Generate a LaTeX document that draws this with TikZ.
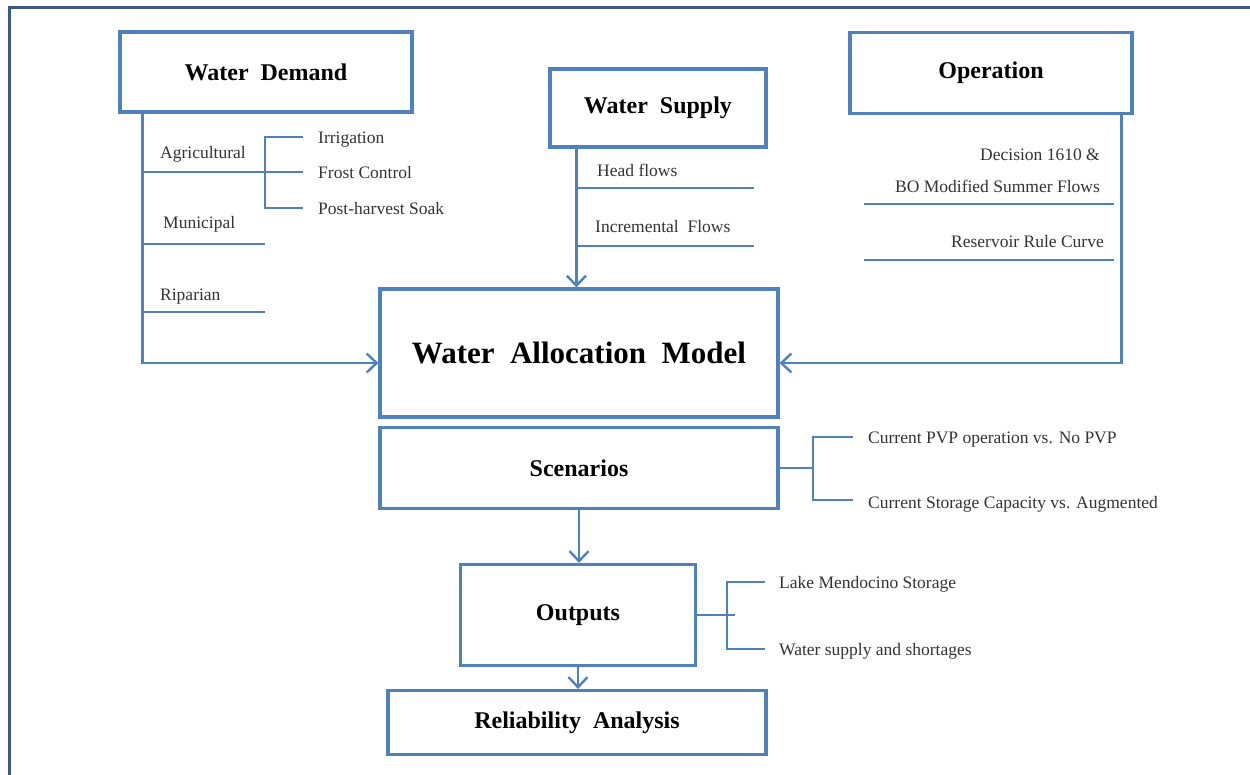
\documentclass[tikz,border=0pt]{standalone}
\usepackage{fontspec}
\setmainfont{Liberation Serif}
\usetikzlibrary{arrows.meta,positioning}
\definecolor{boxblue}{HTML}{4F81BD}
\definecolor{frameblue}{HTML}{3B5A88}
\tikzset{
  blk/.style={draw=boxblue, line width=3.2pt, inner sep=0pt,
    font=\fontsize{24}{28}\selectfont\bfseries},
  lbl/.style={inner sep=0pt, text=black!80, text height=12pt, text depth=4pt,
    font=\fontsize{17.5}{20}\selectfont},
  br/.style={draw=boxblue, line width=2.6pt},
  arr/.style={br, -{Straight Barb[length=10pt,width=19pt,line width=2.4pt]}}
}
\begin{document}
\begin{tikzpicture}[x=1pt,y=-1pt]
\useasboundingbox (0,0) rectangle (1250,774);
% page frame
\draw[frameblue, line width=3pt] (9,790) -- (9,7) -- (1270,7);

% main boxes
\node[blk, minimum width=292pt, minimum height=80pt] (wd) at (266,72) {Water\ \ Demand};
\node[blk, minimum width=216pt, minimum height=78pt] (ws) at (658,108) {Water\ \ Supply};
\node[blk, minimum width=282pt, minimum height=81pt] (op) at (991,73) {Operation};
\node[blk, minimum width=398pt, minimum height=128pt,
  font=\fontsize{31}{36}\selectfont\bfseries] (wam) at (579,353) {Water\ \ Allocation\ \ Model};
\node[blk, minimum width=398pt, minimum height=81pt] (sc) at (579,468) {Scenarios};
\node[blk, minimum width=235pt, minimum height=101pt] (out) at (578,615) {Outputs};
\node[blk, minimum width=378pt, minimum height=64pt] (rel) at (577,722.5) {Reliability\ \ Analysis};

% water demand
\node[lbl, anchor=west] (agr) at (160,154) {Agricultural};
\node[lbl, anchor=west] (irr) at (318,139) {Irrigation};
\node[lbl, anchor=west] (frc) at (318,174) {Frost Control};
\node[lbl, anchor=west] (phs) at (318,210) {Post-harvest Soak};
\node[lbl, anchor=west] (mun) at (163,224) {Municipal};
\node[lbl, anchor=west] (rip) at (160,296) {Riparian};
\coordinate (agj) at (144,172);
\coordinate (subb) at (265,208);
\coordinate (munj) at (144,244);
\coordinate (mune) at (265,244);
\coordinate (ripj) at (144,312);
\coordinate (ripe) at (265,312);
\draw[arr] ([xshift=24pt]wd.south west) |- ([yshift=-10pt]wam.west);
\draw[br] (agj) -- ([xshift=-15pt,yshift=2pt]frc.west);
\draw[br] ([xshift=-15pt,yshift=2pt]irr.west) -| (subb) -- ([xshift=-15pt,yshift=2pt]phs.west);
\draw[br] (munj) -- (mune);
\draw[br] (ripj) -- (ripe);

% water supply
\node[lbl, anchor=west] (hdf) at (597,172) {Head flows};
\node[lbl, anchor=west] (inf) at (595,228) {Incremental\ \ Flows};
\coordinate (hdj) at (578,188);
\coordinate (hde) at (754,188);
\coordinate (inj) at (578,246);
\coordinate (ine) at (754,246);
\draw[arr] ([xshift=28pt]ws.south west) -- ([xshift=28pt]ws.south west |- wam.north);
\draw[br] (hdj) -- (hde);
\draw[br] (inj) -- (ine);

% operation
\node[lbl, anchor=east] (dec) at (1100,156) {Decision 1610 \&};
\node[lbl, anchor=east] (bom) at (1100,188) {BO Modified Summer Flows};
\node[lbl, anchor=east] (rrc) at (1104,243) {Reservoir Rule Curve};
\coordinate (bos) at (864,204);
\coordinate (boe) at (1114,204);
\coordinate (rrs) at (864,260);
\coordinate (rre) at (1114,260);
\draw[arr] ([xshift=-12pt]op.south east) |- ([yshift=-10pt]wam.east);
\draw[br] (bos) -- (boe);
\draw[br] (rrs) -- (rre);

% scenarios
\node[lbl, anchor=west] (pvp) at (868,439) {Current PVP operation vs. No PVP};
\node[lbl, anchor=west] (cap) at (868,504) {Current Storage Capacity vs. Augmented};
\coordinate (scj) at (813,468);
\draw[br] (sc.east) -- (scj);
\draw[br] ([xshift=-15pt,yshift=2pt]pvp.west) -| ([xshift=-55pt,yshift=4pt]cap.west) -- ([xshift=-15pt,yshift=4pt]cap.west);

% outputs
\node[lbl, anchor=west] (lms) at (779,584) {Lake Mendocino Storage};
\node[lbl, anchor=west] (wss) at (779,651) {Water supply and shortages};
\coordinate (outj) at (735,615);
\draw[br] (out.east) -- (outj);
\draw[br] ([xshift=-14pt,yshift=2pt]lms.west) -| ([xshift=-52pt,yshift=2pt]wss.west) -- ([xshift=-14pt,yshift=2pt]wss.west);

% flow down
\draw[arr] (sc.south) -- (sc.south |- out.north);
\draw[arr] (out.south) -- (out.south |- rel.north);
\end{tikzpicture}
\end{document}
